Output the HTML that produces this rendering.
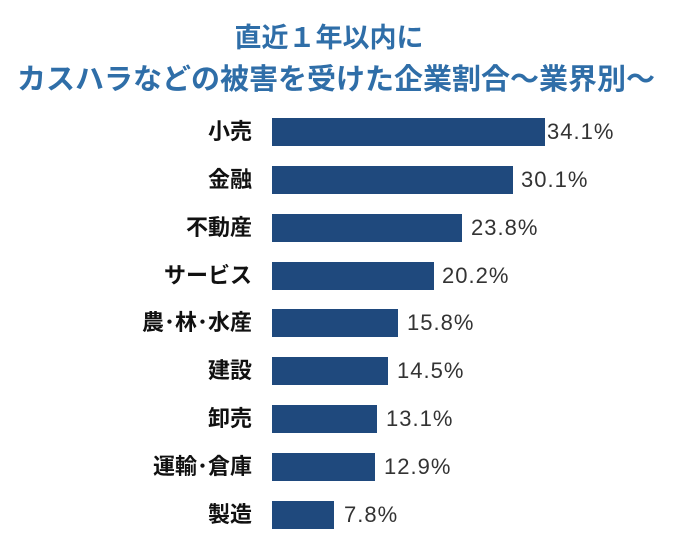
<!DOCTYPE html>
<html><head><meta charset="utf-8"><style>
body{margin:0;width:680px;height:554px;background:#fff;position:relative;overflow:hidden;font-family:"Liberation Sans","Noto Sans CJK JP",sans-serif}
.t{position:absolute;left:0;width:680px;text-align:center;color:#2f6ea8;font-weight:bold;line-height:34px;white-space:nowrap}
.l{position:absolute;right:428px;font-size:22px;font-weight:bold;color:#111;line-height:28px;white-space:nowrap}
.b{position:absolute;left:272px;height:28px;background:#1f497d}
.v{position:absolute;font-size:22px;letter-spacing:1px;color:#333;line-height:28px}
</style></head><body>
<div class="t" style="top:21px;left:-11px;font-size:27px">直近１年以内に</div>
<div class="t" style="top:63px;left:-4px;font-size:29px">カスハラなどの被害を受けた企業割合～業界別～</div>
<div class="l" style="top:118px">小売</div><div class="b" style="top:118px;width:273px"></div><div class="v" style="top:118px;left:547px">34.1%</div>
<div class="l" style="top:166px">金融</div><div class="b" style="top:166px;width:241px"></div><div class="v" style="top:166px;left:521px">30.1%</div>
<div class="l" style="top:214px">不動産</div><div class="b" style="top:214px;width:190px"></div><div class="v" style="top:214px;left:471px">23.8%</div>
<div class="l" style="top:262px">サービス</div><div class="b" style="top:262px;width:162px"></div><div class="v" style="top:262px;left:442px">20.2%</div>
<div class="l" style="top:309px">農･林･水産</div><div class="b" style="top:309px;width:126px"></div><div class="v" style="top:309px;left:407px">15.8%</div>
<div class="l" style="top:357px">建設</div><div class="b" style="top:357px;width:116px"></div><div class="v" style="top:357px;left:397px">14.5%</div>
<div class="l" style="top:405px">卸売</div><div class="b" style="top:405px;width:105px"></div><div class="v" style="top:405px;left:386px">13.1%</div>
<div class="l" style="top:453px">運輸･倉庫</div><div class="b" style="top:453px;width:103px"></div><div class="v" style="top:453px;left:384px">12.9%</div>
<div class="l" style="top:501px">製造</div><div class="b" style="top:501px;width:62px"></div><div class="v" style="top:501px;left:344px">7.8%</div>
</body></html>
